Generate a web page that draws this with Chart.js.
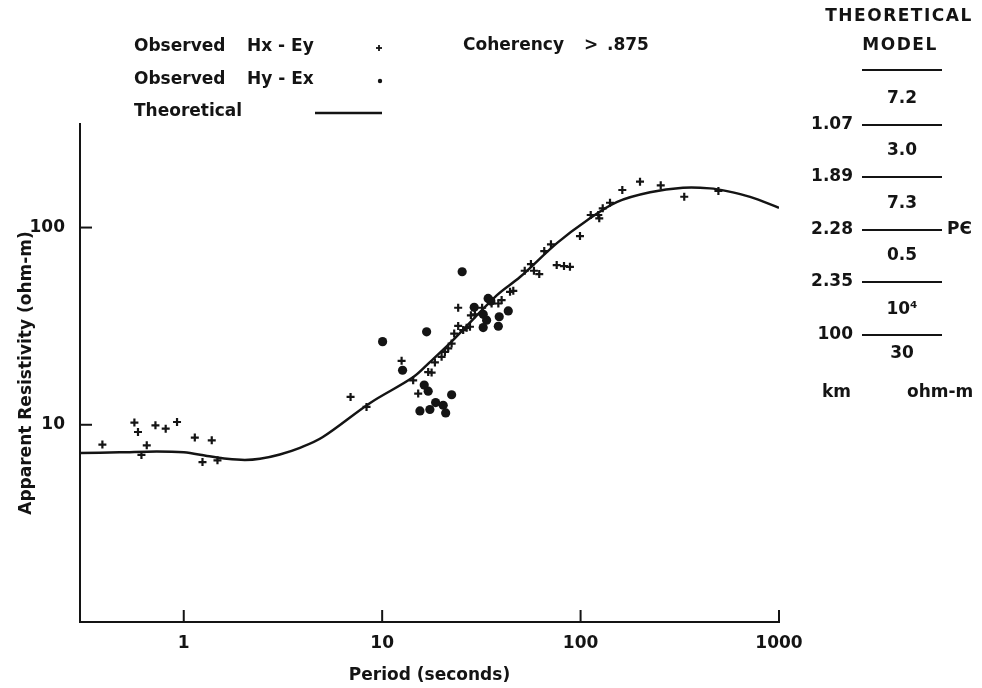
<!DOCTYPE html>
<html>
<head>
<meta charset="utf-8">
<script src="https://cdn.jsdelivr.net/npm/chart.js@4.4.1/dist/chart.umd.min.js"></script>
<style>
html,body{margin:0;padding:0;background:#fff;}
canvas{display:block;}
</style>
</head>
<body>
<canvas id="c" width="982" height="688"></canvas>
<script>
// ---- data ----
const xTicks = [1, 10, 100, 1000];
const yTicks = [10, 100];

const theoPeriod = [0.3, 0.475, 0.73, 1.0, 1.31, 1.65, 2.03, 2.42, 3.05, 3.85, 5.0, 8.7, 14.3, 17.4, 22.7, 37.9, 49.5, 76, 108, 153, 224, 328, 449, 547, 715, 1000];
const theoRho    = [7.2, 7.25, 7.33, 7.25, 6.95, 6.72, 6.63, 6.72, 7.07, 7.64, 8.64, 12.9, 17.4, 20.8, 26.8, 45.4, 56.1, 83.4, 109, 135, 151, 159, 158, 153, 143, 126];

const hxEyPeriod = [0.389, 0.564, 0.588, 0.651, 0.612, 0.72, 0.811, 0.925, 1.137, 1.384, 1.243, 1.479,
  6.93, 8.34, 12.53, 14.33, 15.19, 17.06, 17.75, 18.44, 19.93, 20.71, 21.52, 22.39, 23.07, 24.16, 25.6, 26.65, 27.7,
  24.16, 28.0, 29.35, 31.9, 35.6, 38.5, 40.0, 44.1, 45.8, 52.3, 56.2, 58.2, 61.9, 65.6, 70.9, 75.8, 82.5, 88.4,
  99.3, 112.5, 122.8, 124.2, 129.3, 140.7, 162.3, 199.3, 253.5, 333, 495];
const hxEyRho = [7.94, 10.26, 9.19, 7.87, 7.03, 9.94, 9.56, 10.33, 8.61, 8.34, 6.47, 6.60,
  13.84, 12.31, 21.1, 16.8, 14.4, 18.5, 18.4, 20.7, 22.1, 23.4, 24.4, 25.8, 29.0, 31.7, 30.2, 31.0, 31.4,
  39.2, 35.9, 36.3, 39.2, 41.2, 41.2, 42.9, 47.2, 47.8, 60.4, 65.3, 60.4, 58.1, 76.0, 82.2, 64.5, 63.8, 63.2,
  90.5, 115.8, 115.8, 111.4, 125.2, 133.6, 155.0, 170.8, 163.8, 143.3, 153.2];

const hyExPeriod = [10.05, 12.67, 16.75, 16.29, 17.06, 22.39, 15.5, 17.4, 18.6, 20.3, 20.9, 25.3, 29.1, 32.3, 33.6, 32.3, 34.2, 35.3, 38.9, 38.5, 43.2];
const hyExRho    = [26.4, 18.9, 29.6, 15.9, 14.8, 14.2, 11.75, 11.95, 12.96, 12.56, 11.48, 59.7, 39.4, 36.3, 33.9, 31.1, 43.7, 42.4, 35.3, 31.6, 37.8];

const legendLabels = ['Observed', 'Hx - Ey', 'Hy - Ex', 'Theoretical'];
const coherencyLabel = ['Coherency', '>', '.875'];
const modelTitle = ['THEORETICAL', 'MODEL'];
const modelRho = ['7.2', '3.0', '7.3', '0.5', '10\u2074', '30'];
const modelDepth = ['1.07', '1.89', '2.28', '2.35', '100'];
const modelUnits = ['km', 'ohm-m'];
const pcLabel = 'P\u0404';

const INK = '#141414';
const FONT = '"DejaVu Sans", sans-serif';

function pairs(xs, ys) { return xs.map((x, i) => ({ x: x, y: ys[i] })); }

const overlay = {
  id: 'overlay',
  afterDraw(chart) {
    const ctx = chart.ctx;
    const xs = chart.scales.x, ys = chart.scales.y;
    const ca = chart.chartArea;
    ctx.save();
    ctx.strokeStyle = INK;
    ctx.fillStyle = INK;
    ctx.lineWidth = 2;
    const line = (x1, y1, x2, y2) => { ctx.beginPath(); ctx.moveTo(x1, y1); ctx.lineTo(x2, y2); ctx.stroke(); };
    // inward tick marks
    xTicks.forEach(v => { const p = xs.getPixelForValue(v); line(p, ca.bottom, p, ca.bottom - 12); });
    yTicks.forEach(v => { const p = ys.getPixelForValue(v); line(ca.left, p, ca.left + 12, p); });

    // legend block
    ctx.font = 'bold 17px ' + FONT;
    ctx.textBaseline = 'middle';
    ctx.textAlign = 'left';
    ctx.fillText(legendLabels[0], 134, 47);
    ctx.fillText(legendLabels[1], 247, 47);
    ctx.fillText(legendLabels[0], 134, 80);
    ctx.fillText(legendLabels[2], 247, 80);
    ctx.fillText(legendLabels[3], 134, 112);
    ctx.lineWidth = 1.8;
    line(376, 48, 382, 48); line(379, 45, 379, 51);
    ctx.beginPath(); ctx.arc(380, 81, 2.2, 0, Math.PI * 2); ctx.fill();
    ctx.lineWidth = 2.5;
    line(315, 113, 382, 113);

    ctx.fillText(coherencyLabel[0], 463, 46);
    ctx.fillText(coherencyLabel[1], 584, 46);
    ctx.fillText(coherencyLabel[2], 607, 46);

    // theoretical model panel
    ctx.textAlign = 'center';
    ctx.letterSpacing = '1.5px';
    ctx.fillText(modelTitle[0], 899, 17);
    ctx.fillText(modelTitle[1], 900, 46);
    ctx.letterSpacing = '0px';
    ctx.lineWidth = 2;
    const lineYs = [70, 125, 177, 230, 282, 335];
    lineYs.forEach(y => line(862, y, 942, y));
    const valYs = [99, 151, 204, 256, 310, 354];
    modelRho.forEach((t, i) => ctx.fillText(t, 902, valYs[i]));
    ctx.textAlign = 'right';
    modelDepth.forEach((t, i) => ctx.fillText(t, 853, lineYs[i + 1]));
    ctx.textAlign = 'left';
    ctx.fillText(pcLabel, 947, 230);
    ctx.fillText(modelUnits[0], 822, 393);
    ctx.fillText(modelUnits[1], 907, 393);
    ctx.restore();
  }
};

new Chart(document.getElementById('c'), {
  type: 'scatter',
  data: {
    datasets: [
      {
        label: 'Theoretical',
        type: 'line',
        data: pairs(theoPeriod, theoRho),
        borderColor: INK,
        borderWidth: 2.5,
        pointRadius: 0,
        fill: false,
        tension: 0.35,
        showLine: true
      },
      {
        label: 'Observed Hx-Ey',
        data: pairs(hxEyPeriod, hxEyRho),
        pointStyle: 'cross',
        radius: 4,
        borderWidth: 2.2,
        borderColor: INK,
        backgroundColor: INK
      },
      {
        label: 'Observed Hy-Ex',
        data: pairs(hyExPeriod, hyExRho),
        pointStyle: 'circle',
        radius: 4.6,
        borderWidth: 0,
        backgroundColor: INK
      }
    ]
  },
  options: {
    responsive: false,
    animation: false,
    layout: { padding: { top: 124, right: 203, left: 0, bottom: 0 } },
    plugins: { legend: { display: false }, tooltip: { enabled: false } },
    scales: {
      x: {
        type: 'logarithmic',
        position: 'bottom',
        min: 0.3,
        max: 1000,
        afterBuildTicks: s => { s.ticks = xTicks.map(v => ({ value: v })); },
        afterFit: s => { s.height = 66; },
        grid: { display: false },
        border: { display: true, color: INK, width: 2 },
        ticks: {
          autoSkip: false, maxRotation: 0, padding: 3, color: INK,
          font: { family: FONT, size: 17, weight: 'bold' },
          callback: v => String(v)
        },
        title: {
          display: true, text: 'Period (seconds)', color: INK,
          font: { family: FONT, size: 17, weight: 'bold' },
          padding: { top: 0, bottom: 2 }
        }
      },
      y: {
        type: 'logarithmic',
        position: 'left',
        min: 1,
        max: 335,
        afterBuildTicks: s => { s.ticks = yTicks.map(v => ({ value: v })); },
        afterFit: s => { s.width = 80; },
        grid: { display: false },
        border: { display: true, color: INK, width: 2 },
        ticks: {
          autoSkip: false, padding: 7, color: INK,
          font: { family: FONT, size: 17, weight: 'bold' },
          callback: v => String(v)
        },
        title: {
          display: true, text: 'Apparent Resistivity (ohm-m)', color: INK,
          font: { family: FONT, size: 17, weight: 'bold' },
          padding: { top: 16, bottom: 0 }
        }
      }
    }
  },
  plugins: [overlay]
});
</script>
</body>
</html>
